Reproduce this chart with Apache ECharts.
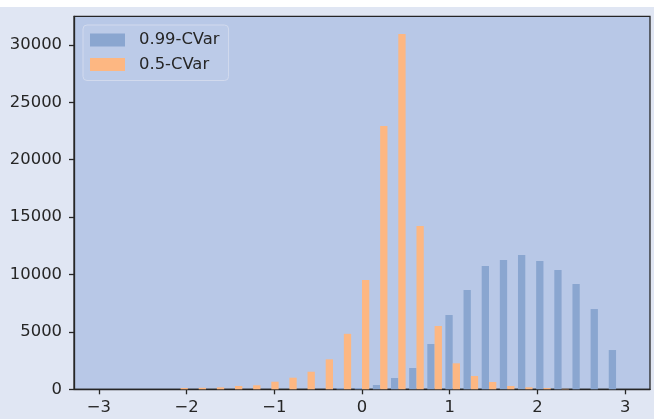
<!DOCTYPE html>
<html>
<head>
<meta charset="utf-8">
<script src="https://cdn.jsdelivr.net/npm/echarts@6/dist/echarts.min.js"></script>
<style>
  html, body { margin: 0; padding: 0; background: #ffffff; }
  #main { position: absolute; left: 0; top: 7px; width: 654px; height: 412px; background: #e0e6f3; }
</style>
</head>
<body>
<div id="main"></div>
<script>
// bin centres (29 bins from -3 to 3)
var binCenters = [-2.897, -2.690, -2.483, -2.276, -2.069, -1.862, -1.655, -1.448, -1.241, -1.034,
  -0.828, -0.621, -0.414, -0.207, 0.000, 0.207, 0.414, 0.621, 0.828, 1.034,
  1.241, 1.448, 1.655, 1.862, 2.069, 2.276, 2.483, 2.690, 2.897];
// 0.99-CVar counts
var cvar99 = [0, 0, 0, 0, 0, 0, 0, 0, 0, 0,
  0, 0, 0, 100, 110, 375, 985, 1855, 3945, 6470,
  8650, 10740, 11260, 11700, 11175, 10390, 9170, 6990, 3420];
// 0.5-CVar counts
var cvar05 = [0, 0, 0, 0, 110, 130, 170, 290, 350, 660,
  1010, 1530, 2610, 4830, 9520, 22930, 30950, 14220, 5515, 2265,
  1160, 635, 290, 175, 110, 40, 0, 0, 0];
var seriesNames = ["0.99-CVar", "0.5-CVar"];
var xTicks = [-3, -2, -1, 0, 1, 2, 3];
var yTicks = [0, 5000, 10000, 15000, 20000, 25000, 30000];

var chart = echarts.init(document.getElementById("main"));

function pairs(values) {
  return binCenters.map(function (x, i) { return [x, values[i]]; });
}

var axisColor = "#262626";
var font = "DejaVu Sans";

var option = {
  animation: false,
  grid: {
    left: 74, right: 4, top: 9.3, bottom: 29.7,
    show: true,
    backgroundColor: "#b8c8e7",
    borderColor: axisColor,
    borderWidth: 1.3
  },
  legend: {
    orient: "vertical",
    left: 83,
    top: 18,
    padding: [7, 9, 8, 7],
    itemGap: 8.5,
    itemWidth: 35,
    itemHeight: 13,
    icon: "rect",
    backgroundColor: "#bccbe8",
    borderColor: "#d2daed",
    borderWidth: 1,
    borderRadius: 4,
    textStyle: {
      color: axisColor,
      fontFamily: font,
      fontSize: 16.4,
      padding: [0, 0, 0, 9]
    },
    data: seriesNames
  },
  xAxis: {
    type: "value",
    min: -3.284,
    max: 3.284,
    splitLine: { show: false },
    axisLine: { show: true, onZero: false, lineStyle: { color: axisColor, width: 1.3 } },
    axisTick: { show: true, length: 5, customValues: xTicks, lineStyle: { color: axisColor, width: 1.3 } },
    axisLabel: {
      customValues: xTicks,
      margin: 10,
      color: axisColor,
      fontFamily: font,
      fontSize: 16.4,
      formatter: function (v) { return String(v).replace("-", "\u2212"); }
    }
  },
  yAxis: {
    type: "value",
    min: 0,
    max: 32490,
    splitLine: { show: false },
    axisLine: { show: true, onZero: false, lineStyle: { color: axisColor, width: 1.3 } },
    axisTick: { show: true, length: 5, customValues: yTicks, lineStyle: { color: axisColor, width: 1.3 } },
    axisLabel: {
      customValues: yTicks,
      margin: 12,
      color: axisColor,
      fontFamily: font,
      fontSize: 16.4,
      formatter: function (v) { return String(v); }
    }
  },
  series: [
    {
      name: seriesNames[0],
      type: "bar",
      barWidth: 7.3,
      barGap: "0%",
      itemStyle: { color: "#8aa6d0" },
      data: pairs(cvar99)
    },
    {
      name: seriesNames[1],
      type: "bar",
      barWidth: 7.3,
      barGap: "0%",
      itemStyle: { color: "#fdb782" },
      data: pairs(cvar05)
    }
  ]
};

chart.setOption(option);
</script>
</body>
</html>
